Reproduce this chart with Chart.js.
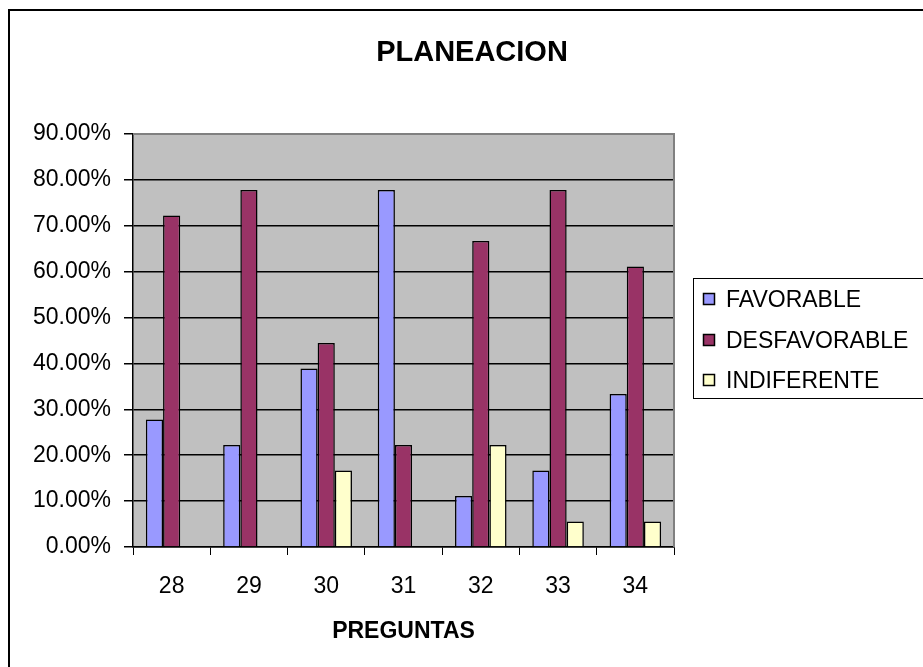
<!DOCTYPE html>
<html>
<head>
<meta charset="utf-8">
<title>PLANEACION</title>
<script src="https://cdn.jsdelivr.net/npm/chart.js@4.4.1/dist/chart.umd.min.js"></script>
<style>
  html, body { margin: 0; padding: 0; background: #ffffff; }
  canvas { display: block; }
</style>
</head>
<body>
<canvas id="chart" width="923" height="667"></canvas>
<script>
// Question numbers on the category axis
const preguntas = ['28', '29', '30', '31', '32', '33', '34'];

// Share of answers per question, in percent
const favorable    = [27.78, 22.22, 38.89, 77.78, 11.11, 16.67, 33.33];
const desfavorable = [72.22, 77.78, 44.44, 22.22, 66.67, 77.78, 61.11];
const indiferente  = [0, 0, 16.67, 0, 22.22, 5.56, 5.56];

// Value axis range and step
const yMin = 0;
const yMax = 90;
const yStep = 10;

const chartTitle = 'PLANEACION';
const FONT = "'Liberation Sans', Arial, sans-serif";

// Grey plot background
const plotBackground = {
  id: 'plotBackground',
  beforeDraw(chart) {
    const { ctx, chartArea: a } = chart;
    ctx.save();
    ctx.fillStyle = '#C0C0C0';
    ctx.fillRect(a.left, a.top, a.right - a.left, a.bottom - a.top);
    ctx.restore();
  }
};

// Title centred on the whole frame, grey plot edges, outer frame and boxed legend
const decorations = {
  id: 'decorations',
  afterDraw(chart) {
    const { ctx, chartArea: a } = chart;
    ctx.save();

    // title
    ctx.fillStyle = '#000000';
    ctx.font = 'bold 29px ' + FONT;
    ctx.textAlign = 'center';
    ctx.textBaseline = 'middle';
    ctx.fillText(chartTitle, 472, 53);

    // plot edge
    ctx.strokeStyle = '#808080';
    ctx.lineWidth = 2;
    ctx.beginPath();
    ctx.moveTo(a.left, a.top);
    ctx.lineTo(a.right, a.top);
    ctx.lineTo(a.right, a.bottom);
    ctx.stroke();

    // outer frame (right and bottom sides run past the canvas)
    ctx.strokeStyle = '#000000';
    ctx.lineWidth = 2;
    ctx.strokeRect(9, 10, 940, 700);

    // legend
    const lx = 693, ly = 278, lw = 260, lh = 120;
    ctx.lineWidth = 1;
    ctx.strokeStyle = '#000000';
    ctx.fillStyle = '#ffffff';
    ctx.fillRect(lx + 0.5, ly + 0.5, lw, lh);
    ctx.strokeRect(lx + 0.5, ly + 0.5, lw, lh);
    ctx.font = '23px ' + FONT;
    ctx.textBaseline = 'middle';
    ctx.textAlign = 'left';
    const rows = [300, 341, 381];
    chart.data.datasets.forEach((ds, i) => {
      const cy = rows[i];
      ctx.fillStyle = ds.backgroundColor;
      ctx.fillRect(703.5, cy - 6.5, 11, 11);
      ctx.lineWidth = 1.5;
      ctx.strokeStyle = '#000000';
      ctx.strokeRect(703.5, cy - 6.5, 11, 11);
      ctx.fillStyle = '#000000';
      ctx.fillText(ds.label, 726, cy + 1);
    });
    ctx.restore();
  }
};

new Chart(document.getElementById('chart'), {
  type: 'bar',
  data: {
    labels: preguntas,
    datasets: [
      { label: 'FAVORABLE', data: favorable, backgroundColor: '#9999FF' },
      { label: 'DESFAVORABLE', data: desfavorable, backgroundColor: '#993366' },
      { label: 'INDIFERENTE', data: indiferente, backgroundColor: '#FFFFCC' }
    ].map(d => Object.assign(d, {
      borderColor: '#000000',
      borderWidth: 1.5,
      borderSkipped: 'start',
      categoryPercentage: 3 / 4.5,
      barPercentage: 1.0
    }))
  },
  options: {
    responsive: false,
    animation: false,
    devicePixelRatio: 1,
    layout: { padding: { left: 0, right: 249, top: 134, bottom: 0 } },
    plugins: {
      legend: { display: false },
      tooltip: { enabled: false },
      title: { display: false }
    },
    scales: {
      x: {
        grid: {
          display: true,
          drawOnChartArea: false,
          drawTicks: true,
          tickLength: 8,
          color: '#000000',
          offset: true
        },
        border: { display: true, color: '#000000', width: 1.5 },
        ticks: {
          color: '#000000',
          font: { family: FONT, size: 23 },
          padding: 18,
          maxRotation: 0
        },
        title: {
          display: true,
          text: 'PREGUNTAS',
          color: '#000000',
          font: { family: FONT, size: 23, weight: 'bold' },
          padding: { top: 0, bottom: 22 }
        },
        afterFit(scale) { scale.height = 120; }
      },
      y: {
        min: yMin,
        max: yMax,
        ticks: {
          stepSize: yStep,
          color: '#000000',
          font: { family: FONT, size: 23 },
          padding: 13,
          callback: v => Number(v).toFixed(2) + '%'
        },
        grid: {
          color: '#000000',
          lineWidth: 1.5,
          drawTicks: true,
          tickLength: 9
        },
        border: { display: true, color: '#000000', width: 1.5 },
        afterFit(scale) { scale.width = 133; }
      }
    }
  },
  plugins: [plotBackground, decorations]
});
</script>
</body>
</html>
